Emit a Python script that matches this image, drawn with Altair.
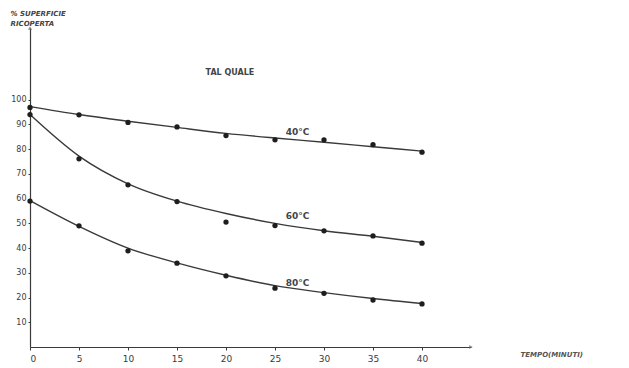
import altair as alt
import pandas as pd

time = [0, 5, 10, 15, 20, 25, 30, 35, 40]
pts_40 = [96.9, 93.9, 90.8, 89.0, 85.5, 83.8, 83.8, 81.8, 78.8]
pts_60 = [94.0, 76.1, 65.6, 58.8, 50.5, 49.1, 47.0, 44.9, 42.0]
pts_80 = [59.0, 49.0, 38.9, 33.9, 28.8, 23.8, 21.7, 19.0, 17.4]
curve_40 = [97.2, 94.0, 91.3, 88.8, 86.4, 84.5, 82.8, 81.0, 79.2]
curve_60 = [94.0, 77.2, 66.0, 59.0, 54.0, 50.0, 47.0, 44.8, 42.3]
curve_80 = [59.2, 48.8, 40.0, 34.0, 29.0, 24.8, 22.0, 19.6, 17.6]
series = ["40°C", "60°C", "80°C"]

label_text = ["40°C", "60°C", "80°C"]
label_x = [27.3, 27.3, 27.3]
label_y = [86.8, 53.0, 26.0]

note_text = ["TAL QUALE"]
note_x = [20.4]
note_y = [111.0]

y_ticks = [10, 20, 30, 40, 50, 60, 70, 80, 90, 100]
x_ticks = [0, 5, 10, 15, 20, 25, 30, 35, 40]

INK = "#3a3a3a"
FONT = "DejaVu Sans"

rows_p, rows_c = [], []
for s, p, c in zip(series, [pts_40, pts_60, pts_80], [curve_40, curve_60, curve_80]):
    for t, pv, cv in zip(time, p, c):
        rows_p.append({"t": t, "v": pv, "s": s})
        rows_c.append({"t": t, "v": cv, "s": s})
dfp = pd.DataFrame(rows_p)
dfc = pd.DataFrame(rows_c)
dfl = pd.DataFrame({"t": label_x, "v": label_y, "txt": label_text})
dfn = pd.DataFrame({"t": note_x, "v": note_y, "txt": note_text})
dfa = pd.DataFrame({"t": [45, 0], "v": [0, 129], "shape": ["triangle-right", "triangle-up"]})

xs = alt.Scale(domain=[0, 45], nice=False, zero=False)
ys = alt.Scale(domain=[0, 129], nice=False, zero=False)

xenc = alt.X("t:Q", scale=xs, axis=alt.Axis(
    values=x_ticks, grid=False, domainColor=INK, domainWidth=1.2, tickColor=INK,
    tickSize=3, labelFont=FONT, labelFontSize=9, labelColor=INK, labelPadding=4,
    labelOverlap=False,
    title="TEMPO(MINUTI)", titleFont=FONT, titleFontSize=7, titleFontStyle="italic",
    titleFontWeight="bold", titleColor="#555", titleX=490, titleY=7, titleAlign="left",
    titleBaseline="middle"))
yenc = alt.Y("v:Q", scale=ys, axis=alt.Axis(
    values=y_ticks, grid=False, domainColor=INK, domainWidth=1.2, tickColor=INK,
    tickSize=2, labelFont=FONT, labelFontSize=8, labelColor=INK, labelPadding=2,
    labelOverlap=False,
    title=["% SUPERFICIE", "RICOPERTA"], titleFont=FONT, titleFontSize=7,
    titleFontStyle="italic", titleFontWeight="bold", titleColor="#444", titleAngle=0,
    titleX=-20, titleY=-15, titleAlign="left", titleBaseline="middle", titleLineHeight=10))

curves = alt.Chart(dfc).mark_line(interpolate="monotone", color=INK, strokeWidth=1.4).encode(
    x=xenc, y=yenc, detail="s:N")
points = alt.Chart(dfp).mark_circle(color="#1e1e1e", size=28, opacity=1).encode(
    x=xenc, y=yenc)
labels = alt.Chart(dfl).mark_text(font=FONT, fontSize=9, fontWeight="bold", color="#444").encode(
    x=xenc, y=yenc, text="txt:N")
note = alt.Chart(dfn).mark_text(font=FONT, fontSize=8, fontWeight="bold", color="#444").encode(
    x=xenc, y=yenc, text="txt:N")
arrows = alt.Chart(dfa).mark_point(filled=True, color="#666", size=18).encode(
    x=xenc, y=yenc, shape=alt.Shape("shape:N", scale=None))

chart = alt.layer(curves, points, labels, note, arrows).properties(
    width=441, height=319, autosize="none",
    padding={"left": 30, "top": 28, "right": 158, "bottom": 21},
    background="white",
).configure_view(stroke=None).configure_axis(labelOverlap=False)

chart.save("out.html", embed_options={"renderer": "svg", "actions": False})
